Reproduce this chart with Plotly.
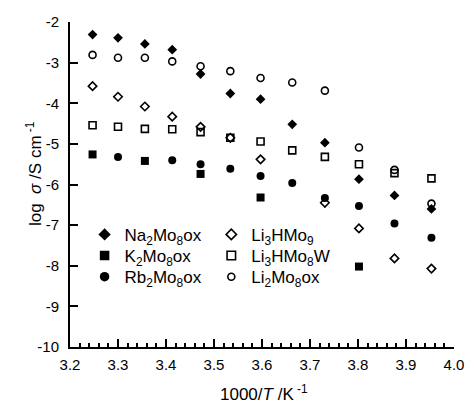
import plotly.graph_objects as go

# 1000/T values of the measurement temperatures
x_vals = [3.247, 3.300, 3.356, 3.413, 3.472, 3.534, 3.597, 3.663, 3.731, 3.802, 3.876, 3.953]

na_x = x_vals
na_y = [-2.31, -2.39, -2.54, -2.68, -3.28, -3.76, -3.90, -4.52, -4.97, -5.87, -6.27, -6.60]

k_x = [3.247, 3.356, 3.472, 3.597, 3.802]
k_y = [-5.26, -5.42, -5.74, -6.32, -8.02]

rb_x = [3.300, 3.413, 3.472, 3.534, 3.597, 3.663, 3.731, 3.802, 3.876, 3.953]
rb_y = [-5.32, -5.40, -5.50, -5.61, -5.79, -5.96, -6.33, -6.53, -6.96, -7.31]

li3hmo9_x = [3.247, 3.300, 3.356, 3.413, 3.472, 3.534, 3.597, 3.731, 3.802, 3.876, 3.953]
li3hmo9_y = [-3.58, -3.84, -4.08, -4.33, -4.58, -4.85, -5.38, -6.45, -7.08, -7.82, -8.07]

li3hmo8w_x = x_vals
li3hmo8w_y = [-4.54, -4.58, -4.63, -4.64, -4.71, -4.85, -4.94, -5.16, -5.32, -5.50, -5.72, -5.85]

li2_x = x_vals
li2_y = [-2.81, -2.88, -2.88, -2.97, -3.09, -3.21, -3.38, -3.49, -3.69, -5.09, -5.64, -6.47]

names = {
    "na": "Na<sub>2</sub>Mo<sub>8</sub>ox",
    "k": "K<sub>2</sub>Mo<sub>8</sub>ox",
    "rb": "Rb<sub>2</sub>Mo<sub>8</sub>ox",
    "li3hmo9": "Li<sub>3</sub>HMo<sub>9</sub>",
    "li3hmo8w": "Li<sub>3</sub>HMo<sub>8</sub>W",
    "li2": "Li<sub>2</sub>Mo<sub>8</sub>ox",
}

y_ticks = [-2, -3, -4, -5, -6, -7, -8, -9, -10]
y_tick_text = ["-2", "-3", "-4", "-5", "-6", "-7", "-8", "-9", "-10"]
x_ticks = [3.2, 3.3, 3.4, 3.5, 3.6, 3.7, 3.8, 3.9, 4.0]

fig = go.Figure()

def marker(symbol, size, filled):
    if filled:
        return dict(symbol=symbol, size=size, color="black", line=dict(width=0))
    return dict(symbol=symbol + "-open", size=size, color="black",
                line=dict(width=1.6, color="black"))

# (key, x, y, symbol, data size, legend size, filled, legend id)
series = [
    ("li3hmo8w", li3hmo8w_x, li3hmo8w_y, "square", 7, 8.5, False, "legend5"),
    ("li2", li2_x, li2_y, "circle", 7, 7, False, "legend6"),
    ("li3hmo9", li3hmo9_x, li3hmo9_y, "diamond", 6.5, 8, False, "legend4"),
    ("na", na_x, na_y, "diamond", 7.5, 9.5, True, "legend"),
    ("k", k_x, k_y, "square", 8, 9.5, True, "legend2"),
    ("rb", rb_x, rb_y, "circle", 8, 9.5, True, "legend3"),
]

for key, xs, ys, sym, size, lsize, filled, leg in series:
    fig.add_trace(go.Scatter(x=xs, y=ys, mode="markers", name=names[key],
                             marker=marker(sym, size, filled), showlegend=False))
    # legend entry (no data drawn)
    fig.add_trace(go.Scatter(x=[None], y=[None], mode="markers", name=names[key],
                             marker=marker(sym, lsize, filled), legend=leg))

font_family = "Liberation Sans, Arial, sans-serif"

def leg(x, y):
    return dict(x=x, y=y, xanchor="left", yanchor="middle", font=dict(size=17),
                bgcolor="rgba(0,0,0,0)", itemwidth=30, borderwidth=0)

col1, col2 = 0.038, 0.368
r1, r2, r3 = 0.345, 0.280, 0.215

fig.update_layout(
    width=466, height=393,
    margin=dict(l=62, r=20, t=14, b=54, autoexpand=False),
    paper_bgcolor="white", plot_bgcolor="white",
    font=dict(family=font_family, color="black", size=15),
    legend=leg(col1, r1), legend2=leg(col1, r2), legend3=leg(col1, r3),
    legend4=leg(col2, r1), legend5=leg(col2, r2), legend6=leg(col2, r3),
    xaxis=dict(range=[3.2, 4.0], tickvals=x_ticks, tickformat=".1f",
               showline=True, linecolor="black", linewidth=2,
               ticks="inside", ticklen=8, tickwidth=1.5, tickcolor="black",
               minor=dict(dtick=0.02, tick0=3.2, ticks="inside", ticklen=4, tickwidth=1.5, tickcolor="black"),
               showgrid=False, zeroline=False, mirror=False, automargin=False,
               tickfont=dict(size=15), ticklabelstandoff=3),
    yaxis=dict(range=[-10, -2], tickvals=y_ticks, ticktext=y_tick_text,
               showline=True, linecolor="black", linewidth=2,
               ticks="inside", ticklen=8, tickwidth=1.5, tickcolor="black",
               showgrid=False, zeroline=False, mirror=False, automargin=False,
               tickfont=dict(size=15), ticklabelstandoff=6),
    annotations=[
        dict(text="log\u00a0\u00a0<i>σ</i> /S cm<sup> -1</sup>", textangle=-90,
             xref="paper", yref="paper", x=-0.094, y=0.535,
             xanchor="center", yanchor="middle", showarrow=False,
             font=dict(size=17)),
        dict(text="1000/<i>T</i> /K<sup> -1</sup>",
             xref="paper", yref="paper", x=0.505, y=-0.142,
             xanchor="center", yanchor="middle", showarrow=False,
             font=dict(size=17)),
    ],
)

fig.write_html("out.html")
